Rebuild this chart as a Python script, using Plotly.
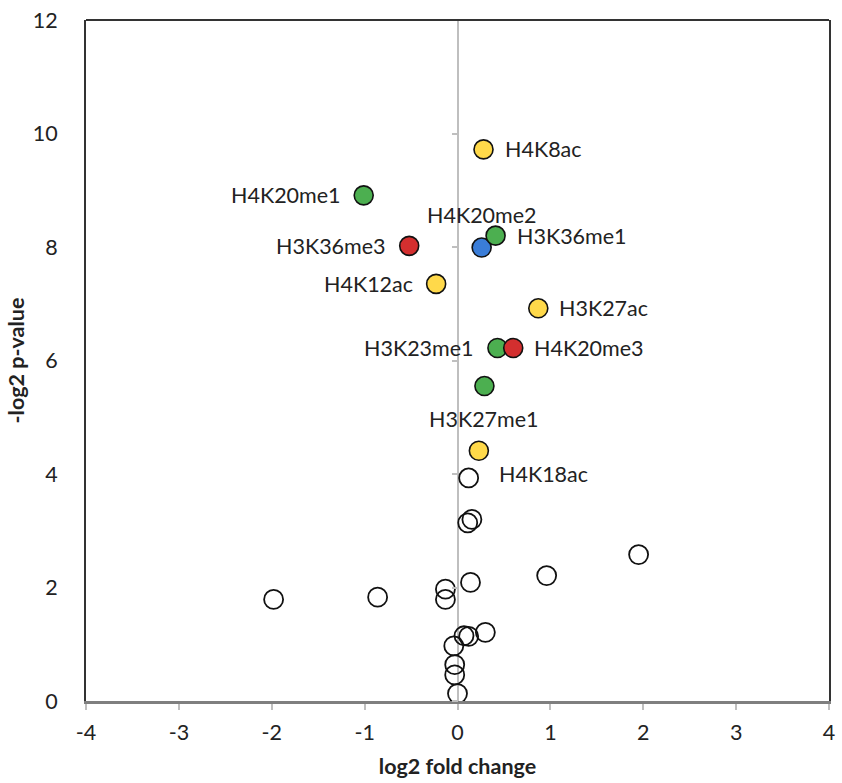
import plotly.graph_objects as go

# Highlighted marks
hl_names = ["H4K8ac", "H4K20me1", "H3K36me3", "H4K20me2", "H3K36me1", "H4K12ac",
            "H3K27ac", "H3K23me1", "H4K20me3", "H3K27me1", "H4K18ac"]
hl_x = [0.28, -1.01, -0.52, 0.26, 0.41, -0.23, 0.87, 0.43, 0.60, 0.29, 0.23]
hl_y = [9.72, 8.91, 8.02, 7.99, 8.20, 7.35, 6.92, 6.22, 6.22, 5.55, 4.41]
hl_color = ["#FFD94A", "#4CAF50", "#D32F2F", "#3A7DD8", "#4CAF50", "#FFD94A",
            "#FFD94A", "#4CAF50", "#D32F2F", "#4CAF50", "#FFD94A"]
hl_label_pos = ["right", "left", "left", "above", "right", "left",
                "right", "left", "right", "below", "belowright"]

# Non-significant marks
ns_x = [0.12, 0.155, 0.11, 1.95, 0.96, 0.14, -0.13, -0.13, -0.86, -1.98,
        0.30, 0.07, 0.12, -0.04, -0.03, -0.03, 0.00]
ns_y = [3.93, 3.20, 3.14, 2.58, 2.21, 2.09, 1.97, 1.79, 1.83, 1.79,
        1.21, 1.15, 1.14, 0.97, 0.64, 0.46, 0.13]

x_ticks = [-4, -3, -2, -1, 0, 1, 2, 3, 4]
y_ticks = [0, 2, 4, 6, 8, 10, 12]

FONT = "Lato"
FS = 21.5
fig = go.Figure()

fig.add_trace(go.Scatter(
    x=ns_x, y=ns_y, mode="markers",
    marker=dict(size=19, color="rgba(255,255,255,0)", line=dict(color="#111111", width=1.8)),
    hoverinfo="skip", showlegend=False))

fig.add_trace(go.Scatter(
    x=hl_x, y=hl_y, mode="markers", text=hl_names,
    marker=dict(size=19, color=hl_color, line=dict(color="#111111", width=1.6)),
    showlegend=False))

# invisible trace to activate the y-axis drawn at x = 0
fig.add_trace(go.Scatter(x=[None], y=[None], yaxis="y2", showlegend=False, hoverinfo="skip"))

for name, x, y, pos in zip(hl_names, hl_x, hl_y, hl_label_pos):
    if pos == "right":
        kw = dict(xanchor="left", yanchor="middle", xshift=19, yshift=0)
    elif pos == "left":
        kw = dict(xanchor="right", yanchor="middle", xshift=-21, yshift=0)
    elif pos == "above":
        kw = dict(xanchor="center", yanchor="middle", xshift=0, yshift=33)
    elif pos == "below":
        kw = dict(xanchor="center", yanchor="middle", xshift=0, yshift=-33)
    else:
        kw = dict(xanchor="left", yanchor="middle", xshift=18, yshift=-23)
    fig.add_annotation(x=x, y=y, xref="x", yref="y", text=name, showarrow=False,
                       font=dict(family=FONT, size=FS, color="#222222"), **kw)

fig.update_layout(
    width=842, height=783,
    margin=dict(l=86, r=7, t=17, b=81),
    plot_bgcolor="white", paper_bgcolor="white",
    font=dict(family=FONT, size=FS, color="#222222"),
    xaxis=dict(
        range=[-4, 4], tickvals=x_ticks, ticktext=[str(v) for v in x_ticks],
        showgrid=False, zeroline=True, zerolinecolor="#BFBFBF", zerolinewidth=1.5,
        showline=True, linecolor="#7F7F7F", linewidth=2.5, mirror=False,
        ticks="outside", ticklen=6, tickcolor="#BFBFBF", tickwidth=1.5,
        ticklabelstandoff=4,
        title=dict(text="<b>log2 fold change</b>", font=dict(family=FONT, size=FS), standoff=16),
    ),
    yaxis=dict(
        range=[0, 12], tickvals=y_ticks, ticktext=[str(v) for v in y_ticks],
        showgrid=False, zeroline=False,
        showline=True, linecolor="#333333", linewidth=2, mirror=True,
        ticks="", ticklabelstandoff=22,
        title=dict(text="<b>-log2 p-value</b>", font=dict(family=FONT, size=FS), standoff=2),
    ),
    yaxis2=dict(
        range=[0, 12], tickvals=y_ticks, overlaying="y", anchor="free", position=0.5,
        side="left", showticklabels=False, showgrid=False, zeroline=False, showline=False,
        ticks="outside", ticklen=6, tickcolor="#BFBFBF", tickwidth=1.5,
    ),
)

fig.add_shape(type="line", xref="paper", yref="paper", x0=0, x1=1, y0=1, y1=1,
              line=dict(color="#333333", width=2))

fig.write_html("out.html")
